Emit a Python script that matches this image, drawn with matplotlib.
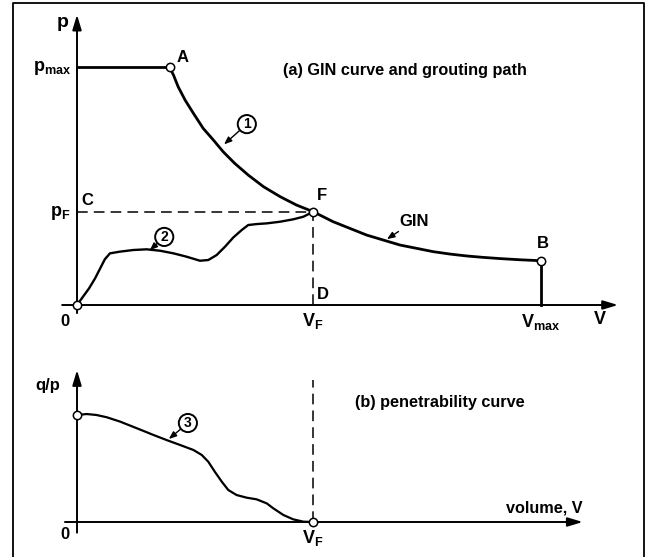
import numpy as np
import matplotlib
matplotlib.use("Agg")
import matplotlib.pyplot as plt
from matplotlib.lines import Line2D

plt.rcParams['font.family'] = ['Liberation Sans', 'DejaVu Sans']
plt.rcParams['font.weight'] = 'bold'
plt.rcParams['mathtext.default'] = 'regular'

# (a) GIN curve and grouting path  (V, p in relative units)
p_max = 10.0
v_max = 10.0
v_F = 5.09
p_F = 3.92
v_A = 2.0

gin_v = [1.99, 2.08, 2.18, 2.33, 2.51, 2.72, 2.94, 3.15, 3.40, 3.69, 4.02, 4.38, 4.73,
         5.09, 5.52, 5.88, 6.24, 6.60, 6.96, 7.32, 7.68, 8.04, 8.40, 8.76, 9.12, 9.55, 10.0]
gin_p = [10.0, 9.66, 9.17, 8.61, 8.05, 7.42, 6.93, 6.44, 5.95, 5.46, 4.97, 4.55, 4.20,
         3.92, 3.50, 3.22, 2.94, 2.73, 2.52, 2.38, 2.24, 2.14, 2.06, 2.0, 1.95, 1.90, 1.86]

path_v = [0.0, 0.13, 0.26, 0.39, 0.50, 0.60, 0.71, 0.92, 1.21, 1.50, 1.79, 2.08, 2.36,
          2.65, 2.83, 3.01, 3.19, 3.37, 3.55, 3.69, 3.87, 4.09, 4.38, 4.66, 4.88, 5.09]
path_p = [0.0, 0.35, 0.70, 1.12, 1.54, 1.92, 2.17, 2.24, 2.31, 2.34, 2.28, 2.17, 2.03,
          1.86, 1.89, 2.10, 2.45, 2.84, 3.15, 3.36, 3.40, 3.43, 3.50, 3.60, 3.71, 3.92]

# (b) penetrability curve
pen_v = [0.0, 0.21, 0.42, 0.64, 0.93, 1.29, 1.65, 1.93, 2.22, 2.51, 2.69, 2.83, 2.97,
         3.12, 3.26, 3.44, 3.66, 3.87, 4.09, 4.23, 4.45, 4.66, 4.88, 5.09]
pen_q = [1.0, 1.009, 1.0, 0.979, 0.938, 0.876, 0.813, 0.766, 0.72, 0.673, 0.626, 0.563,
         0.47, 0.377, 0.299, 0.252, 0.227, 0.212, 0.174, 0.128, 0.065, 0.025, 0.003, 0.0]

fig = plt.figure(figsize=(6.48, 5.57), dpi=100)

# both panels share the whole canvas, each with its own vertical scale
xlim = (-77 / 46.4, (648 - 77) / 46.4)
ax1 = fig.add_axes([0, 0, 1, 1])
ax1.set_xlim(*xlim)
ax1.set_ylim((305 - 557) / 23.8, 305 / 23.8)
ax2 = fig.add_axes([0, 0, 1, 1])
ax2.set_xlim(*xlim)
ax2.set_ylim((522 - 557) / 107.0, 522 / 107.0)
for ax in (ax1, ax2):
    ax.axis('off')
    ax.patch.set_alpha(0)

# frame
fig.add_artist(Line2D([13 / 648, 13 / 648, 644 / 648, 644 / 648], [0, 1 - 3 / 557, 1 - 3 / 557, 0],
                      transform=fig.transFigure, color='black', lw=1.3))

axis_arrow = dict(arrowstyle='-|>,head_length=0.6,head_width=0.18', lw=1.4, color='black',
                  shrinkA=0, shrinkB=0, mutation_scale=15)
lead_arrow = dict(arrowstyle='-|>,head_length=0.5,head_width=0.2', lw=1.0, color='black',
                  shrinkA=0, shrinkB=0, mutation_scale=9)
circ = dict(boxstyle='circle,pad=0.15', fc='white', ec='black', lw=1.4)
fs = 12

# ---- panel (a)
ax1.annotate('', xy=(11.66, 0), xytext=(-0.32, 0), arrowprops=axis_arrow)
ax1.annotate('', xy=(0, 12.2), xytext=(0, -0.34), arrowprops=axis_arrow)

ax1.plot([0, v_A], [p_max, p_max], color='black', lw=2.0, solid_capstyle='butt')
ax1.plot(gin_v, gin_p, color='black', lw=2.0)
ax1.plot([v_max, v_max], [0, gin_p[-1]], color='black', lw=2.0)
ax1.plot(path_v, path_p, color='black', lw=1.7)
ax1.plot([0, v_F], [p_F, p_F], color='black', lw=1.1, dashes=(7, 4))
ax1.plot([v_F, v_F], [0, p_F], color='black', lw=1.1, dashes=(7, 4))

ax1.plot([0, v_A, v_F, v_max], [0, p_max, p_F, gin_p[-1]], 'o', ms=6, mfc='white',
         mec='black', mew=1.1, zorder=5)

ax1.text(-0.30, 11.89, 'p', fontsize=14, ha='center', va='center')
ax1.text(-0.13, 9.95, '$p_{max}$', fontsize=13, ha='right', va='center')
ax1.text(2.28, 10.42, 'A', fontsize=fs, ha='center', va='center')
ax1.text(4.44, 9.87, '(a) GIN curve and grouting path', fontsize=11.7, ha='left', va='center')
ax1.text(5.28, 4.62, 'F', fontsize=fs, ha='center', va='center')
ax1.text(0.22, 4.41, 'C', fontsize=fs, ha='center', va='center')
ax1.text(-0.15, 3.85, '$p_F$', fontsize=13, ha='right', va='center')
ax1.text(5.30, 0.46, 'D', fontsize=fs, ha='center', va='center')
ax1.text(-0.26, -0.71, '0', fontsize=fs, ha='center', va='center')
ax1.text(5.09, -0.66, '$V_F$', fontsize=13, ha='center', va='center')
ax1.text(10.0, -0.70, '$V_{max}$', fontsize=13, ha='center', va='center')
ax1.text(11.27, -0.63, 'V', fontsize=13, ha='center', va='center')
ax1.text(10.04, 2.6, 'B', fontsize=fs, ha='center', va='center')

ax1.annotate('1', xy=(3.17, 6.75), xytext=(3.66, 7.6), fontsize=10, ha='center', va='center',
             bbox=circ, arrowprops=lead_arrow)
ax1.annotate('2', xy=(1.57, 2.3), xytext=(1.88, 2.86), fontsize=10, ha='center', va='center',
             bbox=circ, arrowprops=lead_arrow)
ax1.annotate('GIN', xy=(6.68, 2.77), xytext=(6.95, 3.52), fontsize=fs, ha='left', va='center',
             arrowprops=lead_arrow)

# ---- panel (b)
ax2.annotate('', xy=(10.9, 0), xytext=(-0.26, 0), arrowprops=axis_arrow)
ax2.annotate('', xy=(0, 1.42), xytext=(0, -0.10), arrowprops=axis_arrow)
ax2.plot([v_F, v_F], [0, 1.33], color='black', lw=1.1, dashes=(7, 4))
ax2.plot(pen_v, pen_q, color='black', lw=1.6)
ax2.plot([0, v_F], [pen_q[0], 0], 'o', ms=6, mfc='white', mec='black', mew=1.1, zorder=5)

ax2.text(-0.63, 1.28, 'q/p', fontsize=fs, ha='center', va='center')
ax2.text(5.99, 1.115, '(b) penetrability curve', fontsize=11.7, ha='left', va='center')
ax2.text(10.9, 0.135, 'volume, V', fontsize=11.7, ha='right', va='center')
ax2.text(-0.26, -0.12, '0', fontsize=fs, ha='center', va='center')
ax2.text(5.09, -0.15, '$V_F$', fontsize=13, ha='center', va='center')
ax2.annotate('3', xy=(1.98, 0.776), xytext=(2.39, 0.925), fontsize=10, ha='center', va='center',
             bbox=circ, arrowprops=lead_arrow)

fig.savefig('out.png', dpi=100)
